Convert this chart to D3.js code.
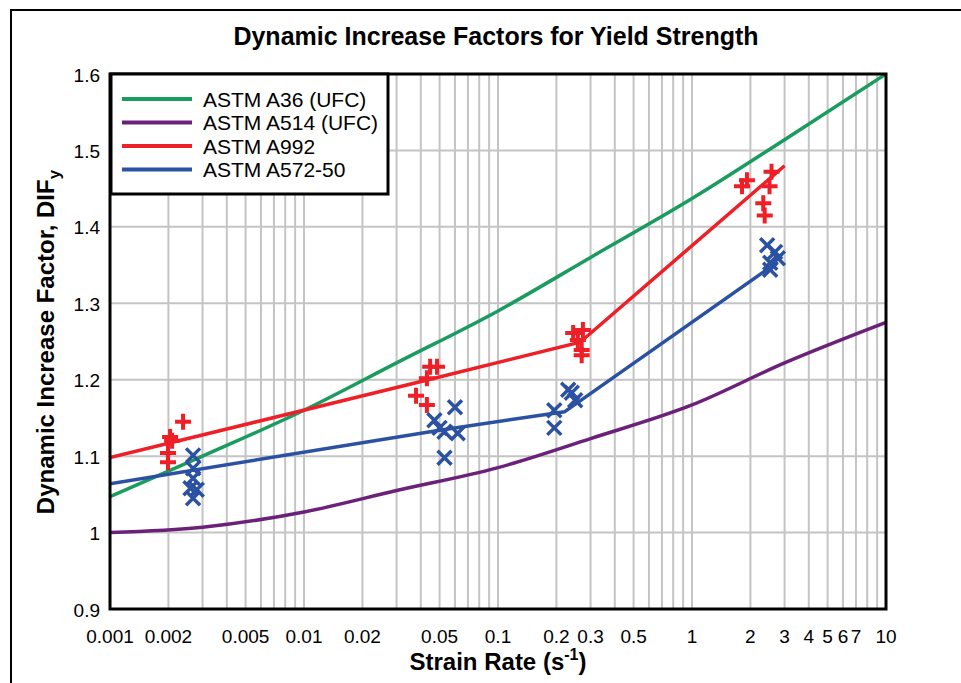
<!DOCTYPE html>
<html>
<head>
<meta charset="utf-8">
<script src="https://cdn.jsdelivr.net/npm/d3@7"></script>
<style>
  html, body { margin: 0; padding: 0; background: #fff; }
  svg { display: block; font-family: Arial, "Liberation Sans", sans-serif; }
</style>
</head>
<body>
<svg id="chart" width="961" height="683"></svg>
<script>
// Strain rate tick labels shown along the log axis
const xTickLabels = [0.001, 0.002, 0.005, 0.01, 0.02, 0.05, 0.1, 0.2, 0.3, 0.5, 1, 2, 3, 4, 5, 6, 7, 10];
const yTicks = [0.9, 1.0, 1.1, 1.2, 1.3, 1.4, 1.5, 1.6];

// UFC design curves
const a36Rate = [0.001, 0.003, 0.01, 0.03, 0.1, 0.3, 1, 3, 10];
const a36Dif  = [1.047, 1.100, 1.160, 1.222, 1.290, 1.360, 1.437, 1.514, 1.600];
const a514Rate = [0.001, 0.003, 0.01, 0.03, 0.1, 0.3, 1, 3, 10];
const a514Dif  = [1.000, 1.007, 1.027, 1.055, 1.085, 1.123, 1.167, 1.222, 1.275];

// Fitted lines through test averages
const a992LineRate = [0.001, 0.047, 0.265, 3.0];
const a992LineDif  = [1.098, 1.202, 1.249, 1.480];
const a572LineRate = [0.001, 0.050, 0.22, 2.77];
const a572LineDif  = [1.064, 1.134, 1.158, 1.354];

// Test results
const a992Rate = [0.00238, 0.00204, 0.00209, 0.00199, 0.00199,
                  0.0447, 0.0485, 0.0430, 0.0378, 0.0430,
                  0.244, 0.274, 0.258, 0.270, 0.270,
                  1.81, 1.92, 2.57, 2.51, 2.33, 2.37];
const a992Dif  = [1.145, 1.125, 1.120, 1.104, 1.092,
                  1.217, 1.217, 1.202, 1.179, 1.167,
                  1.261, 1.265, 1.252, 1.239, 1.232,
                  1.453, 1.461, 1.472, 1.453, 1.431, 1.415];
const a572Rate = [0.00268, 0.00268, 0.00268, 0.0026, 0.0028, 0.00268,
                  0.060, 0.047, 0.050, 0.053, 0.062, 0.053,
                  0.23, 0.24, 0.25, 0.195, 0.195,
                  2.44, 2.68, 2.77, 2.53, 2.53];
const a572Dif  = [1.101, 1.084, 1.071, 1.058, 1.056, 1.045,
                  1.164, 1.147, 1.137, 1.132, 1.130, 1.098,
                  1.187, 1.183, 1.173, 1.160, 1.137,
                  1.376, 1.367, 1.359, 1.353, 1.344];

const seriesNames = ["ASTM A36 (UFC)", "ASTM A514 (UFC)", "ASTM A992", "ASTM A572-50"];
const seriesColors = ["#1a9b5f", "#6b2179", "#ee1f26", "#2b51a3"];

const svg = d3.select("#chart");
const X0 = 110, X1 = 886, Y0 = 74, Y1 = 609;
const x = d3.scaleLog().domain([0.001, 10]).range([X0, X1]);
const y = d3.scaleLinear().domain([0.9, 1.6]).range([Y1, Y0]);

// outer frame
svg.append("rect").attr("x", 11).attr("y", 10).attr("width", 1000).attr("height", 700)
  .attr("fill", "none").attr("stroke", "#000").attr("stroke-width", 2);

// title
svg.append("text").attr("x", 496).attr("y", 45).attr("text-anchor", "middle")
  .attr("font-size", 25).attr("font-weight", "bold").text("Dynamic Increase Factors for Yield Strength");

svg.append("defs").append("clipPath").attr("id", "plotClip")
  .append("rect").attr("x", X0).attr("y", Y0).attr("width", X1 - X0).attr("height", Y1 - Y0);

// grid
const minorTicks = x.ticks(40);
const grid = svg.append("g").attr("stroke", "#c4c4c4").attr("stroke-width", 2);
grid.selectAll("line.v").data(minorTicks).join("line")
  .attr("x1", d => x(d)).attr("x2", d => x(d)).attr("y1", Y0).attr("y2", Y1);
grid.selectAll("line.h").data(yTicks).join("line")
  .attr("x1", X0).attr("x2", X1).attr("y1", d => y(d)).attr("y2", d => y(d));

// curves
const plot = svg.append("g").attr("clip-path", "url(#plotClip)");
const smooth = d3.line().x(d => x(d[0])).y(d => y(d[1])).curve(d3.curveMonotoneX);
const straight = d3.line().x(d => x(d[0])).y(d => y(d[1]));
const zip = (a, b) => a.map((v, i) => [v, b[i]]);

plot.append("path").attr("d", smooth(zip(a36Rate, a36Dif)))
  .attr("fill", "none").attr("stroke", seriesColors[0]).attr("stroke-width", 3.5);
plot.append("path").attr("d", smooth(zip(a514Rate, a514Dif)))
  .attr("fill", "none").attr("stroke", seriesColors[1]).attr("stroke-width", 3.5);
plot.append("path").attr("d", straight(zip(a572LineRate, a572LineDif)))
  .attr("fill", "none").attr("stroke", seriesColors[3]).attr("stroke-width", 3.5);
plot.append("path").attr("d", straight(zip(a992LineRate, a992LineDif)))
  .attr("fill", "none").attr("stroke", seriesColors[2]).attr("stroke-width", 3.5);

// markers
const P = 8, Q = 7;
plot.selectAll("path.plus").data(zip(a992Rate, a992Dif)).join("path")
  .attr("d", d => `M${x(d[0]) - P},${y(d[1])}h${2 * P}M${x(d[0])},${y(d[1]) - P}v${2 * P}`)
  .attr("stroke", seriesColors[2]).attr("stroke-width", 4).attr("fill", "none");
plot.selectAll("path.cross").data(zip(a572Rate, a572Dif)).join("path")
  .attr("d", d => `M${x(d[0]) - Q},${y(d[1]) - Q}l${2 * Q},${2 * Q}M${x(d[0]) - Q},${y(d[1]) + Q}l${2 * Q},${-2 * Q}`)
  .attr("stroke", seriesColors[3]).attr("stroke-width", 3.5).attr("fill", "none");

// plot border
svg.append("rect").attr("x", X0).attr("y", Y0).attr("width", X1 - X0).attr("height", Y1 - Y0)
  .attr("fill", "none").attr("stroke", "#000").attr("stroke-width", 3);

// tick labels
svg.append("g").selectAll("text").data(xTickLabels).join("text")
  .attr("x", d => x(d)).attr("y", 643).attr("text-anchor", "middle").attr("font-size", 19)
  .text(d => String(d));
svg.append("g").selectAll("text").data(yTicks).join("text")
  .attr("x", 100).attr("y", d => y(d) + 7.5).attr("text-anchor", "end").attr("font-size", 19)
  .text(d => d === 1 ? "1" : d.toFixed(1));

// axis titles
const xt = svg.append("text").attr("x", 498).attr("y", 670).attr("text-anchor", "middle")
  .attr("font-size", 24).attr("font-weight", "bold");
xt.append("tspan").text("Strain Rate (s");
xt.append("tspan").attr("font-size", 16).attr("dy", -10).text("-1");
xt.append("tspan").attr("dy", 10).text(")");

const yt = svg.append("text").attr("transform", "translate(54,342) rotate(-90)")
  .attr("text-anchor", "middle").attr("font-size", 24).attr("font-weight", "bold");
yt.append("tspan").text("Dynamic Increase Factor, DIF");
yt.append("tspan").attr("font-size", 17).attr("dy", 6).text("y");

// legend
const lg = svg.append("g");
lg.append("rect").attr("x", 111).attr("y", 74).attr("width", 277).attr("height", 120)
  .attr("fill", "#fff").attr("stroke", "#000").attr("stroke-width", 3);
const rows = lg.selectAll("g.row").data(seriesNames).join("g")
  .attr("transform", (d, i) => `translate(0,${99 + i * 23.5})`);
rows.append("line").attr("x1", 122).attr("x2", 192).attr("y1", 0).attr("y2", 0)
  .attr("stroke", (d, i) => seriesColors[i]).attr("stroke-width", 4);
rows.append("text").attr("x", 203).attr("y", 7.5).attr("font-size", 21).text(d => d);
</script>
</body>
</html>
